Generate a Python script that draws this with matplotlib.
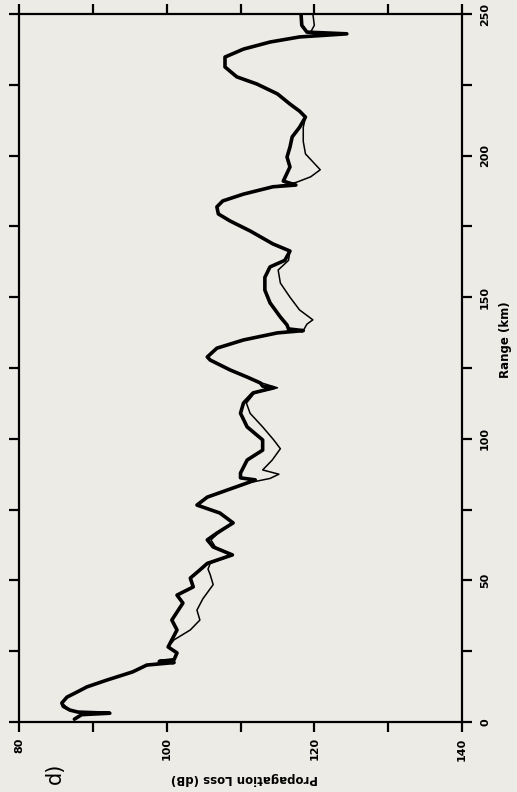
import matplotlib
matplotlib.use("Agg")
import matplotlib.pyplot as plt
from matplotlib.ticker import MultipleLocator

# scanned figure is turned on its side: range runs up the page, loss runs across
loss_ticks = [80, 100, 120, 140]
range_ticks = [0, 50, 100, 150, 200, 250]

# thick curve (range km, loss dB)
thick_range = [1.0, 2.6, 3.1, 3.5, 4.2, 5.5, 6.7, 8.8, 10.5, 12.4, 14.8, 17.7, 20.1, 21.0,
               21.4, 22.0, 24.4, 26.5, 29.0, 32.5, 36.0, 38.8, 42.0, 44.8, 47.7, 50.8, 53.7,
               56.0, 59.0, 61.8, 64.3, 66.7, 70.3, 73.8, 76.6, 79.4, 81.9, 84.4, 85.5, 86.2,
               87.9, 92.5, 96.0, 99.6, 104.2, 109.0, 112.6, 116.2, 118.0, 118.6, 119.7, 121.8,
               124.3, 127.8, 128.9, 132.0, 134.9, 137.4, 138.2, 138.8, 140.2, 143.0, 148.0,
               152.5, 157.0, 160.7, 163.0, 166.3, 168.8, 173.4, 176.9, 179.4, 181.9, 184.0,
               186.4, 189.0, 189.6, 191.0, 196.0, 199.5, 203.0, 206.6, 210.0, 213.6, 215.7,
               218.2, 221.8, 225.3, 227.8, 231.3, 234.8, 237.6, 240.1, 241.9, 243.0, 243.6,
               246.0, 250.0]
thick_loss = [87.5, 88.5, 92.3, 88.0, 86.9, 86.0, 85.8, 86.5, 87.8, 89.2, 91.9, 95.4, 97.3, 101.0,
              99.0, 101.0, 101.4, 100.2, 100.7, 101.4, 100.7, 101.4, 102.2, 101.4, 103.6, 103.2, 104.5,
              105.5, 108.9, 106.3, 105.5, 106.8, 109.0, 107.2, 104.1, 105.5, 108.2, 110.9, 112.0, 110.0,
              110.0, 110.9, 113.0, 113.0, 110.9, 110.0, 110.4, 111.7, 114.5, 113.0, 112.7, 110.9,
              108.6, 105.9, 105.5, 106.8, 110.4, 115.0, 118.5, 116.5, 116.3, 115.4, 114.0,
              113.3, 113.3, 114.0, 116.0, 116.7, 114.4, 111.3, 108.6, 107.0, 106.8, 107.6,
              110.4, 114.4, 117.5, 115.8, 116.7, 116.3, 116.7, 117.0, 118.0, 118.8, 118.0,
              116.7, 115.0, 112.2, 109.5, 107.9, 107.9, 110.4, 114.0, 118.0, 124.4, 119.0,
              118.3, 118.2]

# thin curve (range km, loss dB)
thin_range = [1.0, 2.6, 3.1, 3.5, 4.2, 6.7, 8.8, 12.4, 14.8, 17.7, 20.1, 21.0, 22.0, 24.4, 26.5,
              29.0, 32.5, 36.0, 39.5, 43.5, 48.5, 52.0, 54.0, 56.0, 59.0, 61.8, 64.3, 66.7, 70.3,
              73.8, 76.6, 79.4, 81.9, 84.4, 86.0, 87.5, 89.0, 92.5, 96.5, 99.6, 104.2, 109.0,
              112.6, 116.2, 118.0, 119.7, 121.8, 124.3, 127.8, 128.9, 132.0, 134.9, 137.4, 138.2,
              140.5, 142.0, 145.5, 150.0, 155.0, 159.6, 163.0, 166.3, 168.8, 173.4, 176.9, 179.4,
              181.9, 184.0, 186.4, 189.0, 190.5, 192.5, 195.0, 200.6, 205.0, 210.0, 213.6, 215.7,
              218.2, 221.8, 225.3, 227.8, 231.3, 234.8, 237.6, 240.1, 241.9, 243.0, 243.6, 246.0,
              250.0]
thin_loss = [87.5, 88.5, 92.3, 88.0, 86.9, 85.8, 86.5, 89.2, 91.9, 95.4, 97.3, 101.0, 101.0, 101.4, 100.2,
             101.0, 103.2, 104.5, 104.1, 104.9, 106.3, 105.9, 105.6, 105.9, 109.0, 106.6, 106.0, 107.0, 109.0,
             107.2, 104.1, 105.5, 108.2, 111.0, 114.0, 115.2, 113.0, 114.3, 115.4, 114.5, 113.0, 111.3,
             110.8, 111.9, 115.0, 112.9, 110.9, 108.6, 105.9, 105.5, 106.8, 110.4, 115.0, 118.5,
             119.0, 119.8, 118.0, 116.7, 115.4, 115.1, 116.5, 116.7, 114.4, 111.3, 108.6, 107.0,
             106.8, 107.6, 110.4, 114.4, 117.5, 119.5, 120.8, 118.8, 118.5, 118.5, 118.8, 118.0,
             116.7, 115.0, 112.2, 109.5, 107.9, 107.9, 110.4, 114.0, 118.0, 124.4, 119.5, 120.0,
             119.8]

bg = '#ecebe6'


def main():
    fig = plt.figure(figsize=(5.17, 7.92), dpi=100, facecolor=bg)
    ax = fig.add_axes([19/517, 1 - 722/792, (462 - 19)/517, (722 - 14)/792])
    ax.set_facecolor(bg)

    ax.plot(thin_loss, thin_range, color='black', lw=1.1,
            solid_capstyle='round', solid_joinstyle='round')
    ax.plot(thick_loss, thick_range, color='black', lw=2.6,
            solid_capstyle='round', solid_joinstyle='round')

    ax.set_xlim(80, 140)
    ax.set_ylim(0, 250)

    ax.set_xticks(loss_ticks)
    ax.set_xticklabels([str(v) for v in loss_ticks], rotation=90, fontsize=8, fontweight='bold')
    ax.set_yticks(range_ticks)
    ax.set_yticklabels([str(v) for v in range_ticks], rotation=90, fontsize=8,
                       fontweight='bold', va='center')
    ax.xaxis.set_minor_locator(MultipleLocator(10))
    ax.yaxis.set_minor_locator(MultipleLocator(25))

    # ticks outward on every side, labels only bottom and right
    ax.tick_params(which='both', direction='out', length=7, width=1.6,
                   top=True, bottom=True, left=True, right=True,
                   labelleft=False, labelright=True, labeltop=False, labelbottom=True)
    ax.tick_params(axis='y', pad=6)
    ax.tick_params(axis='x', pad=4)
    for spine in ax.spines.values():
        spine.set_linewidth(1.6)

    fig.text(505/517, 1 - 340/792, 'Range (km)', rotation=90, ha='center', va='center',
             fontsize=8.5, fontweight='bold')
    fig.text(244/517, 1 - 779/792, 'Propagation Loss (dB)', rotation=180, ha='center',
             va='center', fontsize=8.5, fontweight='bold')
    fig.text(55/517, 1 - 773/792, 'd)', rotation=90, ha='center', va='center', fontsize=15)

    fig.savefig('out.png', dpi=100, facecolor=bg)


if __name__ == "__main__":
    main()
